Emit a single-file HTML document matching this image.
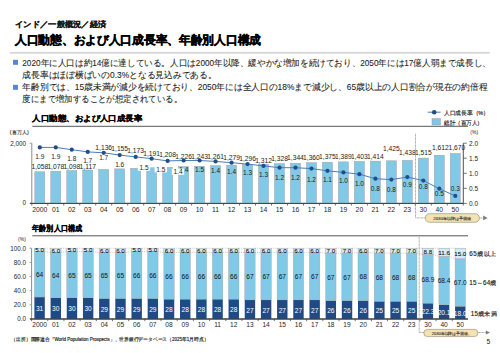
<!DOCTYPE html>
<html lang="ja"><head><meta charset="utf-8"><style>
html,body{margin:0;padding:0;background:#fff;width:500px;height:353px;overflow:hidden}
svg{display:block;font-family:'Liberation Sans', sans-serif}
</style></head><body>
<svg width="500" height="353" viewBox="0 0 500 353">
<text x="15.20" y="26.80" font-size="7.6" text-anchor="start" fill="#1a1a1a" font-weight="bold" textLength="91" lengthAdjust="spacingAndGlyphs" stroke="#1a1a1a" stroke-width="0.25">インド／一般概況／経済</text>
<text x="15.00" y="44.20" font-size="11.8" text-anchor="start" fill="#000" font-weight="bold" textLength="246" lengthAdjust="spacingAndGlyphs" stroke="#000" stroke-width="0.4">人口動態、および人口成長率、年齢別人口構成</text>
<rect x="9.8" y="51.9" width="480" height="1.8" fill="#d6d6d6"/>
<rect x="13.0" y="59.8" width="5" height="5" fill="#5b84d4"/>
<rect x="13.0" y="84.8" width="5" height="5" fill="#5b84d4"/>
<text x="22.30" y="66.20" font-size="8.6" text-anchor="start" fill="#1a1a1a" font-weight="normal" textLength="468.5" lengthAdjust="spacingAndGlyphs" stroke="#1a1a1a" stroke-width="0.08">2020年に人口は約14億に達している。人口は2000年以降、緩やかな増加を続けており、2050年には17億人弱まで成長し、</text>
<text x="22.30" y="78.00" font-size="8.6" text-anchor="start" fill="#1a1a1a" font-weight="normal" textLength="194.5" lengthAdjust="spacingAndGlyphs" stroke="#1a1a1a" stroke-width="0.08">成長率はほぼ横ばいの0.3%となる見込みである。</text>
<text x="22.30" y="90.20" font-size="8.6" text-anchor="start" fill="#1a1a1a" font-weight="normal" textLength="465" lengthAdjust="spacingAndGlyphs" stroke="#1a1a1a" stroke-width="0.08">年齢別では、15歳未満が減少を続けており、2050年には全人口の18%まで減少し、65歳以上の人口割合が現在の約倍程</text>
<text x="22.30" y="102.00" font-size="8.6" text-anchor="start" fill="#1a1a1a" font-weight="normal" textLength="159.7" lengthAdjust="spacingAndGlyphs" stroke="#1a1a1a" stroke-width="0.08">度にまで増加することが想定されている。</text>
<text x="32.30" y="120.90" font-size="7.6" text-anchor="start" fill="#000" font-weight="bold" textLength="110" lengthAdjust="spacingAndGlyphs" stroke="#000" stroke-width="0.22">人口動態、および人口成長率</text>
<rect x="32.3" y="125.8" width="435.7" height="1" fill="#595959"/>
<line x1="427.6" y1="112.2" x2="440.6" y2="112.2" stroke="#4a7ebb" stroke-width="1"/>
<circle cx="434.2" cy="112.2" r="2.3" fill="#1f4e8c"/>
<text x="444.00" y="114.60" font-size="5.8" text-anchor="start" fill="#1a1a1a" font-weight="normal" textLength="45" lengthAdjust="spacingAndGlyphs" stroke="#1a1a1a" stroke-width="0.15">人口成長率（%）</text>
<rect x="432" y="118.6" width="8.4" height="6.4" fill="#7cc8e6" stroke="#9a9a9a" stroke-width="0.5"/>
<text x="444.00" y="124.80" font-size="5.8" text-anchor="start" fill="#1a1a1a" font-weight="normal" textLength="39" lengthAdjust="spacingAndGlyphs" stroke="#1a1a1a" stroke-width="0.15">総計（百万人）</text>
<text x="9.80" y="134.30" font-size="5.3" text-anchor="start" fill="#262626" font-weight="normal" textLength="19" lengthAdjust="spacing" stroke="#262626" stroke-width="0.1">(百万人)</text>
<text x="26.00" y="146.00" font-size="6.3" text-anchor="end" fill="#262626" font-weight="normal" >2,000</text>
<text x="26.00" y="204.80" font-size="6.3" text-anchor="end" fill="#262626" font-weight="normal" >0</text>
<text x="470.30" y="133.80" font-size="5.0" text-anchor="start" fill="#262626" font-weight="normal" >(%)</text>
<text x="469.00" y="145.50" font-size="6.5" text-anchor="start" fill="#262626" font-weight="normal" >2.0</text>
<line x1="463.3" y1="143.2" x2="466.8" y2="143.2" stroke="#505050" stroke-width="0.8"/>
<text x="469.00" y="160.50" font-size="6.5" text-anchor="start" fill="#262626" font-weight="normal" >1.5</text>
<line x1="463.3" y1="158.2" x2="466.8" y2="158.2" stroke="#505050" stroke-width="0.8"/>
<text x="469.00" y="175.60" font-size="6.5" text-anchor="start" fill="#262626" font-weight="normal" >1.0</text>
<line x1="463.3" y1="173.3" x2="466.8" y2="173.3" stroke="#505050" stroke-width="0.8"/>
<text x="469.00" y="190.60" font-size="6.5" text-anchor="start" fill="#262626" font-weight="normal" >0.5</text>
<line x1="463.3" y1="188.3" x2="466.8" y2="188.3" stroke="#505050" stroke-width="0.8"/>
<text x="469.00" y="205.70" font-size="6.5" text-anchor="start" fill="#262626" font-weight="normal" >0.0</text>
<line x1="463.3" y1="203.4" x2="466.8" y2="203.4" stroke="#505050" stroke-width="0.8"/>
<line x1="31.8" y1="143.2" x2="31.8" y2="203.4" stroke="#8c8c8c" stroke-width="1"/>
<line x1="29.5" y1="143.2" x2="31.8" y2="143.2" stroke="#8c8c8c" stroke-width="0.8"/>
<line x1="29.5" y1="203.4" x2="31.8" y2="203.4" stroke="#8c8c8c" stroke-width="0.8"/>
<line x1="463.3" y1="143.2" x2="463.3" y2="203.4" stroke="#505050" stroke-width="1"/>
<line x1="30" y1="203.4" x2="463.3" y2="203.4" stroke="#404040" stroke-width="1"/>
<rect x="34.80" y="171.77" width="10.0" height="31.63" fill="#80cae8" stroke="#a0a0a0" stroke-width="0.5"/>
<rect x="50.78" y="171.17" width="10.0" height="32.23" fill="#80cae8" stroke="#a0a0a0" stroke-width="0.5"/>
<rect x="66.76" y="170.57" width="10.0" height="32.83" fill="#80cae8" stroke="#a0a0a0" stroke-width="0.5"/>
<rect x="82.74" y="170.00" width="10.0" height="33.40" fill="#80cae8" stroke="#a0a0a0" stroke-width="0.5"/>
<rect x="98.72" y="169.43" width="10.0" height="33.97" fill="#80cae8" stroke="#a0a0a0" stroke-width="0.5"/>
<rect x="114.70" y="168.87" width="10.0" height="34.53" fill="#80cae8" stroke="#a0a0a0" stroke-width="0.5"/>
<rect x="130.68" y="168.33" width="10.0" height="35.07" fill="#80cae8" stroke="#a0a0a0" stroke-width="0.5"/>
<rect x="146.66" y="167.79" width="10.0" height="35.61" fill="#80cae8" stroke="#a0a0a0" stroke-width="0.5"/>
<rect x="162.64" y="167.28" width="10.0" height="36.12" fill="#80cae8" stroke="#a0a0a0" stroke-width="0.5"/>
<rect x="178.62" y="166.74" width="10.0" height="36.66" fill="#80cae8" stroke="#a0a0a0" stroke-width="0.5"/>
<rect x="194.60" y="166.23" width="10.0" height="37.17" fill="#80cae8" stroke="#a0a0a0" stroke-width="0.5"/>
<rect x="210.58" y="165.70" width="10.0" height="37.70" fill="#80cae8" stroke="#a0a0a0" stroke-width="0.5"/>
<rect x="226.56" y="165.16" width="10.0" height="38.24" fill="#80cae8" stroke="#a0a0a0" stroke-width="0.5"/>
<rect x="242.54" y="164.65" width="10.0" height="38.75" fill="#80cae8" stroke="#a0a0a0" stroke-width="0.5"/>
<rect x="258.52" y="164.17" width="10.0" height="39.23" fill="#80cae8" stroke="#a0a0a0" stroke-width="0.5"/>
<rect x="274.50" y="163.69" width="10.0" height="39.71" fill="#80cae8" stroke="#a0a0a0" stroke-width="0.5"/>
<rect x="290.48" y="163.21" width="10.0" height="40.19" fill="#80cae8" stroke="#a0a0a0" stroke-width="0.5"/>
<rect x="306.46" y="162.74" width="10.0" height="40.66" fill="#80cae8" stroke="#a0a0a0" stroke-width="0.5"/>
<rect x="322.44" y="162.29" width="10.0" height="41.11" fill="#80cae8" stroke="#a0a0a0" stroke-width="0.5"/>
<rect x="338.42" y="161.87" width="10.0" height="41.53" fill="#80cae8" stroke="#a0a0a0" stroke-width="0.5"/>
<rect x="354.40" y="161.45" width="10.0" height="41.95" fill="#80cae8" stroke="#a0a0a0" stroke-width="0.5"/>
<rect x="370.38" y="161.12" width="10.0" height="42.28" fill="#80cae8" stroke="#a0a0a0" stroke-width="0.5"/>
<rect x="386.36" y="160.79" width="10.0" height="42.61" fill="#80cae8" stroke="#a0a0a0" stroke-width="0.5"/>
<rect x="402.34" y="160.40" width="10.0" height="43.00" fill="#80cae8" stroke="#a0a0a0" stroke-width="0.5"/>
<rect x="418.32" y="158.10" width="10.0" height="45.30" fill="#80cae8" stroke="#a0a0a0" stroke-width="0.5"/>
<rect x="434.30" y="155.20" width="10.0" height="48.20" fill="#80cae8" stroke="#a0a0a0" stroke-width="0.5"/>
<rect x="450.28" y="153.47" width="10.0" height="49.93" fill="#80cae8" stroke="#a0a0a0" stroke-width="0.5"/>
<line x1="30" y1="203.4" x2="463.3" y2="203.4" stroke="#404040" stroke-width="1"/>
<line x1="31.80" y1="203.4" x2="31.80" y2="205.6" stroke="#505050" stroke-width="0.8"/>
<line x1="47.78" y1="203.4" x2="47.78" y2="205.6" stroke="#505050" stroke-width="0.8"/>
<line x1="63.76" y1="203.4" x2="63.76" y2="205.6" stroke="#505050" stroke-width="0.8"/>
<line x1="79.74" y1="203.4" x2="79.74" y2="205.6" stroke="#505050" stroke-width="0.8"/>
<line x1="95.72" y1="203.4" x2="95.72" y2="205.6" stroke="#505050" stroke-width="0.8"/>
<line x1="111.70" y1="203.4" x2="111.70" y2="205.6" stroke="#505050" stroke-width="0.8"/>
<line x1="127.68" y1="203.4" x2="127.68" y2="205.6" stroke="#505050" stroke-width="0.8"/>
<line x1="143.66" y1="203.4" x2="143.66" y2="205.6" stroke="#505050" stroke-width="0.8"/>
<line x1="159.64" y1="203.4" x2="159.64" y2="205.6" stroke="#505050" stroke-width="0.8"/>
<line x1="175.62" y1="203.4" x2="175.62" y2="205.6" stroke="#505050" stroke-width="0.8"/>
<line x1="191.60" y1="203.4" x2="191.60" y2="205.6" stroke="#505050" stroke-width="0.8"/>
<line x1="207.58" y1="203.4" x2="207.58" y2="205.6" stroke="#505050" stroke-width="0.8"/>
<line x1="223.56" y1="203.4" x2="223.56" y2="205.6" stroke="#505050" stroke-width="0.8"/>
<line x1="239.54" y1="203.4" x2="239.54" y2="205.6" stroke="#505050" stroke-width="0.8"/>
<line x1="255.52" y1="203.4" x2="255.52" y2="205.6" stroke="#505050" stroke-width="0.8"/>
<line x1="271.50" y1="203.4" x2="271.50" y2="205.6" stroke="#505050" stroke-width="0.8"/>
<line x1="287.48" y1="203.4" x2="287.48" y2="205.6" stroke="#505050" stroke-width="0.8"/>
<line x1="303.46" y1="203.4" x2="303.46" y2="205.6" stroke="#505050" stroke-width="0.8"/>
<line x1="319.44" y1="203.4" x2="319.44" y2="205.6" stroke="#505050" stroke-width="0.8"/>
<line x1="335.42" y1="203.4" x2="335.42" y2="205.6" stroke="#505050" stroke-width="0.8"/>
<line x1="351.40" y1="203.4" x2="351.40" y2="205.6" stroke="#505050" stroke-width="0.8"/>
<line x1="367.38" y1="203.4" x2="367.38" y2="205.6" stroke="#505050" stroke-width="0.8"/>
<line x1="383.36" y1="203.4" x2="383.36" y2="205.6" stroke="#505050" stroke-width="0.8"/>
<line x1="399.34" y1="203.4" x2="399.34" y2="205.6" stroke="#505050" stroke-width="0.8"/>
<line x1="415.32" y1="203.4" x2="415.32" y2="205.6" stroke="#505050" stroke-width="0.8"/>
<line x1="431.30" y1="203.4" x2="431.30" y2="205.6" stroke="#505050" stroke-width="0.8"/>
<line x1="447.28" y1="203.4" x2="447.28" y2="205.6" stroke="#505050" stroke-width="0.8"/>
<line x1="463.26" y1="203.4" x2="463.26" y2="205.6" stroke="#505050" stroke-width="0.8"/>
<text x="39.80" y="168.70" font-size="6.7" text-anchor="middle" fill="#1a1a1a" font-weight="normal" >1,058</text>
<text x="55.78" y="168.70" font-size="6.7" text-anchor="middle" fill="#1a1a1a" font-weight="normal" >1,078</text>
<text x="71.76" y="168.70" font-size="6.7" text-anchor="middle" fill="#1a1a1a" font-weight="normal" >1,098</text>
<text x="87.74" y="168.70" font-size="6.7" text-anchor="middle" fill="#1a1a1a" font-weight="normal" >1,117</text>
<text x="103.72" y="149.60" font-size="6.7" text-anchor="middle" fill="#1a1a1a" font-weight="normal" >1,136</text>
<text x="119.70" y="151.00" font-size="6.7" text-anchor="middle" fill="#1a1a1a" font-weight="normal" >1,155</text>
<text x="135.68" y="153.20" font-size="6.7" text-anchor="middle" fill="#1a1a1a" font-weight="normal" >1,173</text>
<text x="151.66" y="155.50" font-size="6.7" text-anchor="middle" fill="#1a1a1a" font-weight="normal" >1,191</text>
<text x="167.64" y="156.80" font-size="6.7" text-anchor="middle" fill="#1a1a1a" font-weight="normal" >1,208</text>
<text x="183.62" y="158.60" font-size="6.7" text-anchor="middle" fill="#1a1a1a" font-weight="normal" >1,226</text>
<text x="199.60" y="159.10" font-size="6.7" text-anchor="middle" fill="#1a1a1a" font-weight="normal" >1,243</text>
<text x="215.58" y="158.60" font-size="6.7" text-anchor="middle" fill="#1a1a1a" font-weight="normal" >1,261</text>
<text x="231.56" y="159.50" font-size="6.7" text-anchor="middle" fill="#1a1a1a" font-weight="normal" >1,279</text>
<text x="247.54" y="160.90" font-size="6.7" text-anchor="middle" fill="#1a1a1a" font-weight="normal" >1,296</text>
<text x="263.52" y="162.70" font-size="6.7" text-anchor="middle" fill="#1a1a1a" font-weight="normal" >1,312</text>
<text x="279.50" y="161.00" font-size="6.7" text-anchor="middle" fill="#1a1a1a" font-weight="normal" >1,328</text>
<text x="295.48" y="159.50" font-size="6.7" text-anchor="middle" fill="#1a1a1a" font-weight="normal" >1,344</text>
<text x="311.46" y="159.50" font-size="6.7" text-anchor="middle" fill="#1a1a1a" font-weight="normal" >1,360</text>
<text x="327.44" y="159.30" font-size="6.7" text-anchor="middle" fill="#1a1a1a" font-weight="normal" >1,375</text>
<text x="343.42" y="159.20" font-size="6.7" text-anchor="middle" fill="#1a1a1a" font-weight="normal" >1,389</text>
<text x="359.40" y="159.20" font-size="6.7" text-anchor="middle" fill="#1a1a1a" font-weight="normal" >1,403</text>
<text x="375.38" y="159.20" font-size="6.7" text-anchor="middle" fill="#1a1a1a" font-weight="normal" >1,414</text>
<text x="391.36" y="150.60" font-size="6.7" text-anchor="middle" fill="#1a1a1a" font-weight="normal" >1,425</text>
<text x="407.34" y="155.20" font-size="6.7" text-anchor="middle" fill="#1a1a1a" font-weight="normal" >1,438</text>
<text x="423.32" y="154.50" font-size="6.7" text-anchor="middle" fill="#1a1a1a" font-weight="normal" >1,515</text>
<text x="440.30" y="150.00" font-size="6.7" text-anchor="middle" fill="#1a1a1a" font-weight="normal" >1,612</text>
<text x="456.90" y="150.00" font-size="6.7" text-anchor="middle" fill="#1a1a1a" font-weight="normal" >1,670</text>
<polyline points="39.80,147.4 55.78,147.4 71.76,149.7 87.74,151.9 103.72,152.8 119.70,155.1 135.68,156.9 151.66,158.7 167.64,160.9 183.62,160.5 199.60,160.5 215.58,161.4 231.56,162.7 247.54,164.1 263.52,165.9 279.50,167.7 295.48,167.7 311.46,168.6 327.44,170.8 343.42,172.4 359.40,174.2 375.38,178.7 391.36,179.6 407.34,177.1 423.32,180.6 439.30,188.7 455.28,195.9" fill="none" stroke="#4a7ebb" stroke-width="1"/>
<circle cx="39.80" cy="147.4" r="2.1" fill="#1f4e8c"/>
<circle cx="55.78" cy="147.4" r="2.1" fill="#1f4e8c"/>
<circle cx="71.76" cy="149.7" r="2.1" fill="#1f4e8c"/>
<circle cx="87.74" cy="151.9" r="2.1" fill="#1f4e8c"/>
<circle cx="103.72" cy="152.8" r="2.1" fill="#1f4e8c"/>
<circle cx="119.70" cy="155.1" r="2.1" fill="#1f4e8c"/>
<circle cx="135.68" cy="156.9" r="2.1" fill="#1f4e8c"/>
<circle cx="151.66" cy="158.7" r="2.1" fill="#1f4e8c"/>
<circle cx="167.64" cy="160.9" r="2.1" fill="#1f4e8c"/>
<circle cx="183.62" cy="160.5" r="2.1" fill="#1f4e8c"/>
<circle cx="199.60" cy="160.5" r="2.1" fill="#1f4e8c"/>
<circle cx="215.58" cy="161.4" r="2.1" fill="#1f4e8c"/>
<circle cx="231.56" cy="162.7" r="2.1" fill="#1f4e8c"/>
<circle cx="247.54" cy="164.1" r="2.1" fill="#1f4e8c"/>
<circle cx="263.52" cy="165.9" r="2.1" fill="#1f4e8c"/>
<circle cx="279.50" cy="167.7" r="2.1" fill="#1f4e8c"/>
<circle cx="295.48" cy="167.7" r="2.1" fill="#1f4e8c"/>
<circle cx="311.46" cy="168.6" r="2.1" fill="#1f4e8c"/>
<circle cx="327.44" cy="170.8" r="2.1" fill="#1f4e8c"/>
<circle cx="343.42" cy="172.4" r="2.1" fill="#1f4e8c"/>
<circle cx="359.40" cy="174.2" r="2.1" fill="#1f4e8c"/>
<circle cx="375.38" cy="178.7" r="2.1" fill="#1f4e8c"/>
<circle cx="391.36" cy="179.6" r="2.1" fill="#1f4e8c"/>
<circle cx="407.34" cy="177.1" r="2.1" fill="#1f4e8c"/>
<circle cx="423.32" cy="180.6" r="2.1" fill="#1f4e8c"/>
<circle cx="439.30" cy="188.7" r="2.1" fill="#1f4e8c"/>
<circle cx="455.28" cy="195.9" r="2.1" fill="#1f4e8c"/>
<text x="39.80" y="158.70" font-size="6.5" text-anchor="middle" fill="#1a1a1a" font-weight="normal" >1.9</text>
<text x="55.78" y="158.70" font-size="6.5" text-anchor="middle" fill="#1a1a1a" font-weight="normal" >1.9</text>
<text x="71.76" y="160.50" font-size="6.5" text-anchor="middle" fill="#1a1a1a" font-weight="normal" >1.8</text>
<text x="87.74" y="162.80" font-size="6.5" text-anchor="middle" fill="#1a1a1a" font-weight="normal" >1.7</text>
<text x="103.72" y="159.50" font-size="6.5" text-anchor="middle" fill="#1a1a1a" font-weight="normal" >1.7</text>
<text x="119.70" y="166.80" font-size="6.5" text-anchor="middle" fill="#1a1a1a" font-weight="normal" >1.6</text>
<rect x="137.80" y="164.60" width="12.4" height="6.2" fill="#fff"/>
<text x="144.00" y="169.90" font-size="6.5" text-anchor="middle" fill="#1a1a1a" font-weight="normal" >1.5</text>
<rect x="154.60" y="166.20" width="12.4" height="6.2" fill="#fff"/>
<text x="160.80" y="171.50" font-size="6.5" text-anchor="middle" fill="#1a1a1a" font-weight="normal" >1.5</text>
<text x="183.80" y="172.30" font-size="6.5" text-anchor="middle" fill="#1a1a1a" font-weight="normal" >1.4</text>
<rect x="171.80" y="168.60" width="12.4" height="6.2" fill="#fff"/>
<text x="178.00" y="173.90" font-size="6.5" text-anchor="middle" fill="#1a1a1a" font-weight="normal" >1.4</text>
<text x="199.60" y="171.50" font-size="6.5" text-anchor="middle" fill="#1a1a1a" font-weight="normal" >1.5</text>
<text x="215.58" y="173.10" font-size="6.5" text-anchor="middle" fill="#1a1a1a" font-weight="normal" >1.4</text>
<text x="231.56" y="174.00" font-size="6.5" text-anchor="middle" fill="#1a1a1a" font-weight="normal" >1.4</text>
<text x="247.54" y="174.90" font-size="6.5" text-anchor="middle" fill="#1a1a1a" font-weight="normal" >1.3</text>
<text x="263.52" y="176.70" font-size="6.5" text-anchor="middle" fill="#1a1a1a" font-weight="normal" >1.3</text>
<text x="279.50" y="180.00" font-size="6.5" text-anchor="middle" fill="#1a1a1a" font-weight="normal" >1.2</text>
<text x="295.48" y="180.00" font-size="6.5" text-anchor="middle" fill="#1a1a1a" font-weight="normal" >1.2</text>
<text x="311.46" y="181.50" font-size="6.5" text-anchor="middle" fill="#1a1a1a" font-weight="normal" >1.2</text>
<text x="327.44" y="182.00" font-size="6.5" text-anchor="middle" fill="#1a1a1a" font-weight="normal" >1.1</text>
<text x="343.42" y="183.40" font-size="6.5" text-anchor="middle" fill="#1a1a1a" font-weight="normal" >1.0</text>
<text x="359.40" y="186.10" font-size="6.5" text-anchor="middle" fill="#1a1a1a" font-weight="normal" >1.0</text>
<text x="375.38" y="190.60" font-size="6.5" text-anchor="middle" fill="#1a1a1a" font-weight="normal" >0.8</text>
<text x="391.36" y="191.50" font-size="6.5" text-anchor="middle" fill="#1a1a1a" font-weight="normal" >0.8</text>
<text x="407.34" y="187.00" font-size="6.5" text-anchor="middle" fill="#1a1a1a" font-weight="normal" >0.9</text>
<text x="423.32" y="188.70" font-size="6.5" text-anchor="middle" fill="#1a1a1a" font-weight="normal" >0.8</text>
<text x="439.30" y="196.40" font-size="6.5" text-anchor="middle" fill="#1a1a1a" font-weight="normal" >0.5</text>
<text x="455.28" y="190.90" font-size="6.5" text-anchor="middle" fill="#1a1a1a" font-weight="normal" >0.3</text>
<text x="39.80" y="212.30" font-size="6.8" text-anchor="middle" fill="#262626" font-weight="normal" >2000</text>
<text x="55.78" y="212.30" font-size="6.8" text-anchor="middle" fill="#262626" font-weight="normal" >01</text>
<text x="71.76" y="212.30" font-size="6.8" text-anchor="middle" fill="#262626" font-weight="normal" >02</text>
<text x="87.74" y="212.30" font-size="6.8" text-anchor="middle" fill="#262626" font-weight="normal" >03</text>
<text x="103.72" y="212.30" font-size="6.8" text-anchor="middle" fill="#262626" font-weight="normal" >04</text>
<text x="119.70" y="212.30" font-size="6.8" text-anchor="middle" fill="#262626" font-weight="normal" >05</text>
<text x="135.68" y="212.30" font-size="6.8" text-anchor="middle" fill="#262626" font-weight="normal" >06</text>
<text x="151.66" y="212.30" font-size="6.8" text-anchor="middle" fill="#262626" font-weight="normal" >07</text>
<text x="167.64" y="212.30" font-size="6.8" text-anchor="middle" fill="#262626" font-weight="normal" >08</text>
<text x="183.62" y="212.30" font-size="6.8" text-anchor="middle" fill="#262626" font-weight="normal" >09</text>
<text x="199.60" y="212.30" font-size="6.8" text-anchor="middle" fill="#262626" font-weight="normal" >10</text>
<text x="215.58" y="212.30" font-size="6.8" text-anchor="middle" fill="#262626" font-weight="normal" >11</text>
<text x="231.56" y="212.30" font-size="6.8" text-anchor="middle" fill="#262626" font-weight="normal" >12</text>
<text x="247.54" y="212.30" font-size="6.8" text-anchor="middle" fill="#262626" font-weight="normal" >13</text>
<text x="263.52" y="212.30" font-size="6.8" text-anchor="middle" fill="#262626" font-weight="normal" >14</text>
<text x="279.50" y="212.30" font-size="6.8" text-anchor="middle" fill="#262626" font-weight="normal" >15</text>
<text x="295.48" y="212.30" font-size="6.8" text-anchor="middle" fill="#262626" font-weight="normal" >16</text>
<text x="311.46" y="212.30" font-size="6.8" text-anchor="middle" fill="#262626" font-weight="normal" >17</text>
<text x="327.44" y="212.30" font-size="6.8" text-anchor="middle" fill="#262626" font-weight="normal" >18</text>
<text x="343.42" y="212.30" font-size="6.8" text-anchor="middle" fill="#262626" font-weight="normal" >19</text>
<text x="359.40" y="212.30" font-size="6.8" text-anchor="middle" fill="#262626" font-weight="normal" >20</text>
<text x="375.38" y="212.30" font-size="6.8" text-anchor="middle" fill="#262626" font-weight="normal" >21</text>
<text x="391.36" y="212.30" font-size="6.8" text-anchor="middle" fill="#262626" font-weight="normal" >22</text>
<text x="407.34" y="212.30" font-size="6.8" text-anchor="middle" fill="#262626" font-weight="normal" >23</text>
<text x="423.32" y="212.30" font-size="6.8" text-anchor="middle" fill="#262626" font-weight="normal" >30</text>
<text x="439.30" y="212.30" font-size="6.8" text-anchor="middle" fill="#262626" font-weight="normal" >40</text>
<text x="455.28" y="212.30" font-size="6.8" text-anchor="middle" fill="#262626" font-weight="normal" >50</text>
<text x="32.10" y="231.20" font-size="7.6" text-anchor="start" fill="#000" font-weight="bold" textLength="50" lengthAdjust="spacingAndGlyphs" stroke="#000" stroke-width="0.22">年齢別人口構成</text>
<rect x="32.3" y="235.3" width="435.7" height="1" fill="#555555"/>
<text x="25.90" y="241.40" font-size="5.0" text-anchor="end" fill="#262626" font-weight="normal" >(%)</text>
<text x="25.90" y="321.30" font-size="6.3" text-anchor="end" fill="#262626" font-weight="normal" >0.0</text>
<line x1="29.5" y1="319.00" x2="31.6" y2="319.00" stroke="#8c8c8c" stroke-width="0.8"/>
<text x="25.90" y="307.14" font-size="6.3" text-anchor="end" fill="#262626" font-weight="normal" >20.0</text>
<line x1="29.5" y1="304.84" x2="31.6" y2="304.84" stroke="#8c8c8c" stroke-width="0.8"/>
<text x="25.90" y="292.98" font-size="6.3" text-anchor="end" fill="#262626" font-weight="normal" >40.0</text>
<line x1="29.5" y1="290.68" x2="31.6" y2="290.68" stroke="#8c8c8c" stroke-width="0.8"/>
<text x="25.90" y="278.82" font-size="6.3" text-anchor="end" fill="#262626" font-weight="normal" >60.0</text>
<line x1="29.5" y1="276.52" x2="31.6" y2="276.52" stroke="#8c8c8c" stroke-width="0.8"/>
<text x="25.90" y="264.66" font-size="6.3" text-anchor="end" fill="#262626" font-weight="normal" >80.0</text>
<line x1="29.5" y1="262.36" x2="31.6" y2="262.36" stroke="#8c8c8c" stroke-width="0.8"/>
<text x="25.90" y="250.50" font-size="6.3" text-anchor="end" fill="#262626" font-weight="normal" >100.0</text>
<line x1="29.5" y1="248.20" x2="31.6" y2="248.20" stroke="#8c8c8c" stroke-width="0.8"/>
<line x1="31.6" y1="248.20" x2="31.6" y2="319.0" stroke="#8c8c8c" stroke-width="1"/>
<line x1="30" y1="319.0" x2="468" y2="319.0" stroke="#404040" stroke-width="1"/>
<rect x="34.40" y="297.05" width="10.4" height="21.95" fill="#1f4a85"/>
<rect x="34.40" y="251.74" width="10.4" height="45.31" fill="#80cae8" stroke="#a0a0a0" stroke-width="0.4"/>
<rect x="34.40" y="248.20" width="10.4" height="3.54" fill="#d2ecf7" stroke="#a0a0a0" stroke-width="0.5"/>
<line x1="44.80" y1="248.20" x2="50.58" y2="248.20" stroke="#999" stroke-width="0.5" stroke-dasharray="1,1"/>
<line x1="44.80" y1="251.74" x2="50.58" y2="252.45" stroke="#999" stroke-width="0.5" stroke-dasharray="1,1"/>
<text x="39.60" y="252.17" font-size="6.2" text-anchor="middle" fill="#000" font-weight="normal" stroke="#000" stroke-width="0.05">5.0</text>
<text x="39.60" y="277.20" font-size="6.6" text-anchor="middle" fill="#111" font-weight="normal" >64</text>
<text x="39.60" y="311.13" font-size="6.6" text-anchor="middle" fill="#ffffff" font-weight="normal" >31</text>
<line x1="31.60" y1="319.0" x2="31.60" y2="321.2" stroke="#505050" stroke-width="0.8"/>
<text x="39.60" y="327.00" font-size="6.6" text-anchor="middle" fill="#262626" font-weight="normal" >2000</text>
<rect x="50.58" y="297.76" width="10.4" height="21.24" fill="#1f4a85"/>
<rect x="50.58" y="252.45" width="10.4" height="45.31" fill="#80cae8" stroke="#a0a0a0" stroke-width="0.4"/>
<rect x="50.58" y="248.20" width="10.4" height="4.25" fill="#d2ecf7" stroke="#a0a0a0" stroke-width="0.5"/>
<line x1="60.98" y1="248.20" x2="66.76" y2="248.20" stroke="#999" stroke-width="0.5" stroke-dasharray="1,1"/>
<line x1="60.98" y1="252.45" x2="66.76" y2="251.74" stroke="#999" stroke-width="0.5" stroke-dasharray="1,1"/>
<text x="55.78" y="252.52" font-size="6.2" text-anchor="middle" fill="#000" font-weight="normal" stroke="#000" stroke-width="0.05">6.0</text>
<text x="55.78" y="277.90" font-size="6.6" text-anchor="middle" fill="#111" font-weight="normal" >64</text>
<text x="55.78" y="311.48" font-size="6.6" text-anchor="middle" fill="#ffffff" font-weight="normal" >30</text>
<line x1="47.78" y1="319.0" x2="47.78" y2="321.2" stroke="#505050" stroke-width="0.8"/>
<text x="55.78" y="327.00" font-size="6.6" text-anchor="middle" fill="#262626" font-weight="normal" >01</text>
<rect x="66.76" y="297.76" width="10.4" height="21.24" fill="#1f4a85"/>
<rect x="66.76" y="251.74" width="10.4" height="46.02" fill="#80cae8" stroke="#a0a0a0" stroke-width="0.4"/>
<rect x="66.76" y="248.20" width="10.4" height="3.54" fill="#d2ecf7" stroke="#a0a0a0" stroke-width="0.5"/>
<line x1="77.16" y1="248.20" x2="82.94" y2="248.20" stroke="#999" stroke-width="0.5" stroke-dasharray="1,1"/>
<line x1="77.16" y1="251.74" x2="82.94" y2="251.74" stroke="#999" stroke-width="0.5" stroke-dasharray="1,1"/>
<text x="71.96" y="252.17" font-size="6.2" text-anchor="middle" fill="#000" font-weight="normal" stroke="#000" stroke-width="0.05">5.0</text>
<text x="71.96" y="277.55" font-size="6.6" text-anchor="middle" fill="#111" font-weight="normal" >65</text>
<text x="71.96" y="311.48" font-size="6.6" text-anchor="middle" fill="#ffffff" font-weight="normal" >30</text>
<line x1="63.96" y1="319.0" x2="63.96" y2="321.2" stroke="#505050" stroke-width="0.8"/>
<text x="71.96" y="327.00" font-size="6.6" text-anchor="middle" fill="#262626" font-weight="normal" >02</text>
<rect x="82.94" y="297.76" width="10.4" height="21.24" fill="#1f4a85"/>
<rect x="82.94" y="251.74" width="10.4" height="46.02" fill="#80cae8" stroke="#a0a0a0" stroke-width="0.4"/>
<rect x="82.94" y="248.20" width="10.4" height="3.54" fill="#d2ecf7" stroke="#a0a0a0" stroke-width="0.5"/>
<line x1="93.34" y1="248.20" x2="99.12" y2="248.20" stroke="#999" stroke-width="0.5" stroke-dasharray="1,1"/>
<line x1="93.34" y1="251.74" x2="99.12" y2="252.45" stroke="#999" stroke-width="0.5" stroke-dasharray="1,1"/>
<text x="88.14" y="252.17" font-size="6.2" text-anchor="middle" fill="#000" font-weight="normal" stroke="#000" stroke-width="0.05">5.0</text>
<text x="88.14" y="277.55" font-size="6.6" text-anchor="middle" fill="#111" font-weight="normal" >65</text>
<text x="88.14" y="311.48" font-size="6.6" text-anchor="middle" fill="#ffffff" font-weight="normal" >30</text>
<line x1="80.14" y1="319.0" x2="80.14" y2="321.2" stroke="#505050" stroke-width="0.8"/>
<text x="88.14" y="327.00" font-size="6.6" text-anchor="middle" fill="#262626" font-weight="normal" >03</text>
<rect x="99.12" y="298.47" width="10.4" height="20.53" fill="#1f4a85"/>
<rect x="99.12" y="252.45" width="10.4" height="46.02" fill="#80cae8" stroke="#a0a0a0" stroke-width="0.4"/>
<rect x="99.12" y="248.20" width="10.4" height="4.25" fill="#d2ecf7" stroke="#a0a0a0" stroke-width="0.5"/>
<line x1="109.52" y1="248.20" x2="115.30" y2="248.20" stroke="#999" stroke-width="0.5" stroke-dasharray="1,1"/>
<line x1="109.52" y1="252.45" x2="115.30" y2="252.45" stroke="#999" stroke-width="0.5" stroke-dasharray="1,1"/>
<text x="104.32" y="252.52" font-size="6.2" text-anchor="middle" fill="#000" font-weight="normal" stroke="#000" stroke-width="0.05">6.0</text>
<text x="104.32" y="278.26" font-size="6.6" text-anchor="middle" fill="#111" font-weight="normal" >65</text>
<text x="104.32" y="311.83" font-size="6.6" text-anchor="middle" fill="#ffffff" font-weight="normal" >29</text>
<line x1="96.32" y1="319.0" x2="96.32" y2="321.2" stroke="#505050" stroke-width="0.8"/>
<text x="104.32" y="327.00" font-size="6.6" text-anchor="middle" fill="#262626" font-weight="normal" >04</text>
<rect x="115.30" y="298.47" width="10.4" height="20.53" fill="#1f4a85"/>
<rect x="115.30" y="252.45" width="10.4" height="46.02" fill="#80cae8" stroke="#a0a0a0" stroke-width="0.4"/>
<rect x="115.30" y="248.20" width="10.4" height="4.25" fill="#d2ecf7" stroke="#a0a0a0" stroke-width="0.5"/>
<line x1="125.70" y1="248.20" x2="131.48" y2="248.20" stroke="#999" stroke-width="0.5" stroke-dasharray="1,1"/>
<line x1="125.70" y1="252.45" x2="131.48" y2="251.74" stroke="#999" stroke-width="0.5" stroke-dasharray="1,1"/>
<text x="120.50" y="252.52" font-size="6.2" text-anchor="middle" fill="#000" font-weight="normal" stroke="#000" stroke-width="0.05">6.0</text>
<text x="120.50" y="278.26" font-size="6.6" text-anchor="middle" fill="#111" font-weight="normal" >65</text>
<text x="120.50" y="311.83" font-size="6.6" text-anchor="middle" fill="#ffffff" font-weight="normal" >29</text>
<line x1="112.50" y1="319.0" x2="112.50" y2="321.2" stroke="#505050" stroke-width="0.8"/>
<text x="120.50" y="327.00" font-size="6.6" text-anchor="middle" fill="#262626" font-weight="normal" >05</text>
<rect x="131.48" y="298.47" width="10.4" height="20.53" fill="#1f4a85"/>
<rect x="131.48" y="251.74" width="10.4" height="46.73" fill="#80cae8" stroke="#a0a0a0" stroke-width="0.4"/>
<rect x="131.48" y="248.20" width="10.4" height="3.54" fill="#d2ecf7" stroke="#a0a0a0" stroke-width="0.5"/>
<line x1="141.88" y1="248.20" x2="147.66" y2="248.20" stroke="#999" stroke-width="0.5" stroke-dasharray="1,1"/>
<line x1="141.88" y1="251.74" x2="147.66" y2="251.74" stroke="#999" stroke-width="0.5" stroke-dasharray="1,1"/>
<text x="136.68" y="252.17" font-size="6.2" text-anchor="middle" fill="#000" font-weight="normal" stroke="#000" stroke-width="0.05">5.0</text>
<text x="136.68" y="277.90" font-size="6.6" text-anchor="middle" fill="#111" font-weight="normal" >66</text>
<text x="136.68" y="311.83" font-size="6.6" text-anchor="middle" fill="#ffffff" font-weight="normal" >29</text>
<line x1="128.68" y1="319.0" x2="128.68" y2="321.2" stroke="#505050" stroke-width="0.8"/>
<text x="136.68" y="327.00" font-size="6.6" text-anchor="middle" fill="#262626" font-weight="normal" >06</text>
<rect x="147.66" y="298.47" width="10.4" height="20.53" fill="#1f4a85"/>
<rect x="147.66" y="251.74" width="10.4" height="46.73" fill="#80cae8" stroke="#a0a0a0" stroke-width="0.4"/>
<rect x="147.66" y="248.20" width="10.4" height="3.54" fill="#d2ecf7" stroke="#a0a0a0" stroke-width="0.5"/>
<line x1="158.06" y1="248.20" x2="163.84" y2="248.20" stroke="#999" stroke-width="0.5" stroke-dasharray="1,1"/>
<line x1="158.06" y1="251.74" x2="163.84" y2="252.45" stroke="#999" stroke-width="0.5" stroke-dasharray="1,1"/>
<text x="152.86" y="252.17" font-size="6.2" text-anchor="middle" fill="#000" font-weight="normal" stroke="#000" stroke-width="0.05">5.0</text>
<text x="152.86" y="277.90" font-size="6.6" text-anchor="middle" fill="#111" font-weight="normal" >66</text>
<text x="152.86" y="311.83" font-size="6.6" text-anchor="middle" fill="#ffffff" font-weight="normal" >29</text>
<line x1="144.86" y1="319.0" x2="144.86" y2="321.2" stroke="#505050" stroke-width="0.8"/>
<text x="152.86" y="327.00" font-size="6.6" text-anchor="middle" fill="#262626" font-weight="normal" >07</text>
<rect x="163.84" y="299.18" width="10.4" height="19.82" fill="#1f4a85"/>
<rect x="163.84" y="252.45" width="10.4" height="46.73" fill="#80cae8" stroke="#a0a0a0" stroke-width="0.4"/>
<rect x="163.84" y="248.20" width="10.4" height="4.25" fill="#d2ecf7" stroke="#a0a0a0" stroke-width="0.5"/>
<line x1="174.24" y1="248.20" x2="180.02" y2="248.20" stroke="#999" stroke-width="0.5" stroke-dasharray="1,1"/>
<line x1="174.24" y1="252.45" x2="180.02" y2="252.45" stroke="#999" stroke-width="0.5" stroke-dasharray="1,1"/>
<text x="169.04" y="252.52" font-size="6.2" text-anchor="middle" fill="#000" font-weight="normal" stroke="#000" stroke-width="0.05">6.0</text>
<text x="169.04" y="278.61" font-size="6.6" text-anchor="middle" fill="#111" font-weight="normal" >66</text>
<text x="169.04" y="312.19" font-size="6.6" text-anchor="middle" fill="#ffffff" font-weight="normal" >28</text>
<line x1="161.04" y1="319.0" x2="161.04" y2="321.2" stroke="#505050" stroke-width="0.8"/>
<text x="169.04" y="327.00" font-size="6.6" text-anchor="middle" fill="#262626" font-weight="normal" >08</text>
<rect x="180.02" y="299.18" width="10.4" height="19.82" fill="#1f4a85"/>
<rect x="180.02" y="252.45" width="10.4" height="46.73" fill="#80cae8" stroke="#a0a0a0" stroke-width="0.4"/>
<rect x="180.02" y="248.20" width="10.4" height="4.25" fill="#d2ecf7" stroke="#a0a0a0" stroke-width="0.5"/>
<line x1="190.42" y1="248.20" x2="196.20" y2="248.20" stroke="#999" stroke-width="0.5" stroke-dasharray="1,1"/>
<line x1="190.42" y1="252.45" x2="196.20" y2="252.45" stroke="#999" stroke-width="0.5" stroke-dasharray="1,1"/>
<text x="185.22" y="252.52" font-size="6.2" text-anchor="middle" fill="#000" font-weight="normal" stroke="#000" stroke-width="0.05">6.0</text>
<text x="185.22" y="278.61" font-size="6.6" text-anchor="middle" fill="#111" font-weight="normal" >66</text>
<text x="185.22" y="312.19" font-size="6.6" text-anchor="middle" fill="#ffffff" font-weight="normal" >28</text>
<line x1="177.22" y1="319.0" x2="177.22" y2="321.2" stroke="#505050" stroke-width="0.8"/>
<text x="185.22" y="327.00" font-size="6.6" text-anchor="middle" fill="#262626" font-weight="normal" >09</text>
<rect x="196.20" y="299.18" width="10.4" height="19.82" fill="#1f4a85"/>
<rect x="196.20" y="252.45" width="10.4" height="46.73" fill="#80cae8" stroke="#a0a0a0" stroke-width="0.4"/>
<rect x="196.20" y="248.20" width="10.4" height="4.25" fill="#d2ecf7" stroke="#a0a0a0" stroke-width="0.5"/>
<line x1="206.60" y1="248.20" x2="212.38" y2="248.20" stroke="#999" stroke-width="0.5" stroke-dasharray="1,1"/>
<line x1="206.60" y1="252.45" x2="212.38" y2="252.45" stroke="#999" stroke-width="0.5" stroke-dasharray="1,1"/>
<text x="201.40" y="252.52" font-size="6.2" text-anchor="middle" fill="#000" font-weight="normal" stroke="#000" stroke-width="0.05">6.0</text>
<text x="201.40" y="278.61" font-size="6.6" text-anchor="middle" fill="#111" font-weight="normal" >66</text>
<text x="201.40" y="312.19" font-size="6.6" text-anchor="middle" fill="#ffffff" font-weight="normal" >28</text>
<line x1="193.40" y1="319.0" x2="193.40" y2="321.2" stroke="#505050" stroke-width="0.8"/>
<text x="201.40" y="327.00" font-size="6.6" text-anchor="middle" fill="#262626" font-weight="normal" >10</text>
<rect x="212.38" y="299.18" width="10.4" height="19.82" fill="#1f4a85"/>
<rect x="212.38" y="252.45" width="10.4" height="46.73" fill="#80cae8" stroke="#a0a0a0" stroke-width="0.4"/>
<rect x="212.38" y="248.20" width="10.4" height="4.25" fill="#d2ecf7" stroke="#a0a0a0" stroke-width="0.5"/>
<line x1="222.78" y1="248.20" x2="228.56" y2="248.20" stroke="#999" stroke-width="0.5" stroke-dasharray="1,1"/>
<line x1="222.78" y1="252.45" x2="228.56" y2="252.45" stroke="#999" stroke-width="0.5" stroke-dasharray="1,1"/>
<text x="217.58" y="252.52" font-size="6.2" text-anchor="middle" fill="#000" font-weight="normal" stroke="#000" stroke-width="0.05">6.0</text>
<text x="217.58" y="278.61" font-size="6.6" text-anchor="middle" fill="#111" font-weight="normal" >66</text>
<text x="217.58" y="312.19" font-size="6.6" text-anchor="middle" fill="#ffffff" font-weight="normal" >28</text>
<line x1="209.58" y1="319.0" x2="209.58" y2="321.2" stroke="#505050" stroke-width="0.8"/>
<text x="217.58" y="327.00" font-size="6.6" text-anchor="middle" fill="#262626" font-weight="normal" >11</text>
<rect x="228.56" y="299.18" width="10.4" height="19.82" fill="#1f4a85"/>
<rect x="228.56" y="252.45" width="10.4" height="46.73" fill="#80cae8" stroke="#a0a0a0" stroke-width="0.4"/>
<rect x="228.56" y="248.20" width="10.4" height="4.25" fill="#d2ecf7" stroke="#a0a0a0" stroke-width="0.5"/>
<line x1="238.96" y1="248.20" x2="244.74" y2="248.20" stroke="#999" stroke-width="0.5" stroke-dasharray="1,1"/>
<line x1="238.96" y1="252.45" x2="244.74" y2="252.45" stroke="#999" stroke-width="0.5" stroke-dasharray="1,1"/>
<text x="233.76" y="252.52" font-size="6.2" text-anchor="middle" fill="#000" font-weight="normal" stroke="#000" stroke-width="0.05">6.0</text>
<text x="233.76" y="278.61" font-size="6.6" text-anchor="middle" fill="#111" font-weight="normal" >66</text>
<text x="233.76" y="312.19" font-size="6.6" text-anchor="middle" fill="#ffffff" font-weight="normal" >28</text>
<line x1="225.76" y1="319.0" x2="225.76" y2="321.2" stroke="#505050" stroke-width="0.8"/>
<text x="233.76" y="327.00" font-size="6.6" text-anchor="middle" fill="#262626" font-weight="normal" >12</text>
<rect x="244.74" y="299.88" width="10.4" height="19.12" fill="#1f4a85"/>
<rect x="244.74" y="252.45" width="10.4" height="47.44" fill="#80cae8" stroke="#a0a0a0" stroke-width="0.4"/>
<rect x="244.74" y="248.20" width="10.4" height="4.25" fill="#d2ecf7" stroke="#a0a0a0" stroke-width="0.5"/>
<line x1="255.14" y1="248.20" x2="260.92" y2="248.20" stroke="#999" stroke-width="0.5" stroke-dasharray="1,1"/>
<line x1="255.14" y1="252.45" x2="260.92" y2="252.45" stroke="#999" stroke-width="0.5" stroke-dasharray="1,1"/>
<text x="249.94" y="252.52" font-size="6.2" text-anchor="middle" fill="#000" font-weight="normal" stroke="#000" stroke-width="0.05">6.0</text>
<text x="249.94" y="278.97" font-size="6.6" text-anchor="middle" fill="#111" font-weight="normal" >67</text>
<text x="249.94" y="312.54" font-size="6.6" text-anchor="middle" fill="#ffffff" font-weight="normal" >27</text>
<line x1="241.94" y1="319.0" x2="241.94" y2="321.2" stroke="#505050" stroke-width="0.8"/>
<text x="249.94" y="327.00" font-size="6.6" text-anchor="middle" fill="#262626" font-weight="normal" >13</text>
<rect x="260.92" y="299.88" width="10.4" height="19.12" fill="#1f4a85"/>
<rect x="260.92" y="252.45" width="10.4" height="47.44" fill="#80cae8" stroke="#a0a0a0" stroke-width="0.4"/>
<rect x="260.92" y="248.20" width="10.4" height="4.25" fill="#d2ecf7" stroke="#a0a0a0" stroke-width="0.5"/>
<line x1="271.32" y1="248.20" x2="277.10" y2="248.20" stroke="#999" stroke-width="0.5" stroke-dasharray="1,1"/>
<line x1="271.32" y1="252.45" x2="277.10" y2="252.45" stroke="#999" stroke-width="0.5" stroke-dasharray="1,1"/>
<text x="266.12" y="252.52" font-size="6.2" text-anchor="middle" fill="#000" font-weight="normal" stroke="#000" stroke-width="0.05">6.0</text>
<text x="266.12" y="278.97" font-size="6.6" text-anchor="middle" fill="#111" font-weight="normal" >67</text>
<text x="266.12" y="312.54" font-size="6.6" text-anchor="middle" fill="#ffffff" font-weight="normal" >27</text>
<line x1="258.12" y1="319.0" x2="258.12" y2="321.2" stroke="#505050" stroke-width="0.8"/>
<text x="266.12" y="327.00" font-size="6.6" text-anchor="middle" fill="#262626" font-weight="normal" >14</text>
<rect x="277.10" y="299.88" width="10.4" height="19.12" fill="#1f4a85"/>
<rect x="277.10" y="252.45" width="10.4" height="47.44" fill="#80cae8" stroke="#a0a0a0" stroke-width="0.4"/>
<rect x="277.10" y="248.20" width="10.4" height="4.25" fill="#d2ecf7" stroke="#a0a0a0" stroke-width="0.5"/>
<line x1="287.50" y1="248.20" x2="293.28" y2="248.20" stroke="#999" stroke-width="0.5" stroke-dasharray="1,1"/>
<line x1="287.50" y1="252.45" x2="293.28" y2="252.45" stroke="#999" stroke-width="0.5" stroke-dasharray="1,1"/>
<text x="282.30" y="252.52" font-size="6.2" text-anchor="middle" fill="#000" font-weight="normal" stroke="#000" stroke-width="0.05">6.0</text>
<text x="282.30" y="278.97" font-size="6.6" text-anchor="middle" fill="#111" font-weight="normal" >67</text>
<text x="282.30" y="312.54" font-size="6.6" text-anchor="middle" fill="#ffffff" font-weight="normal" >27</text>
<line x1="274.30" y1="319.0" x2="274.30" y2="321.2" stroke="#505050" stroke-width="0.8"/>
<text x="282.30" y="327.00" font-size="6.6" text-anchor="middle" fill="#262626" font-weight="normal" >15</text>
<rect x="293.28" y="299.88" width="10.4" height="19.12" fill="#1f4a85"/>
<rect x="293.28" y="252.45" width="10.4" height="47.44" fill="#80cae8" stroke="#a0a0a0" stroke-width="0.4"/>
<rect x="293.28" y="248.20" width="10.4" height="4.25" fill="#d2ecf7" stroke="#a0a0a0" stroke-width="0.5"/>
<line x1="303.68" y1="248.20" x2="309.46" y2="248.20" stroke="#999" stroke-width="0.5" stroke-dasharray="1,1"/>
<line x1="303.68" y1="252.45" x2="309.46" y2="252.45" stroke="#999" stroke-width="0.5" stroke-dasharray="1,1"/>
<text x="298.48" y="252.52" font-size="6.2" text-anchor="middle" fill="#000" font-weight="normal" stroke="#000" stroke-width="0.05">6.0</text>
<text x="298.48" y="278.97" font-size="6.6" text-anchor="middle" fill="#111" font-weight="normal" >67</text>
<text x="298.48" y="312.54" font-size="6.6" text-anchor="middle" fill="#ffffff" font-weight="normal" >27</text>
<line x1="290.48" y1="319.0" x2="290.48" y2="321.2" stroke="#505050" stroke-width="0.8"/>
<text x="298.48" y="327.00" font-size="6.6" text-anchor="middle" fill="#262626" font-weight="normal" >16</text>
<rect x="309.46" y="299.88" width="10.4" height="19.12" fill="#1f4a85"/>
<rect x="309.46" y="252.45" width="10.4" height="47.44" fill="#80cae8" stroke="#a0a0a0" stroke-width="0.4"/>
<rect x="309.46" y="248.20" width="10.4" height="4.25" fill="#d2ecf7" stroke="#a0a0a0" stroke-width="0.5"/>
<line x1="319.86" y1="248.20" x2="325.64" y2="248.20" stroke="#999" stroke-width="0.5" stroke-dasharray="1,1"/>
<line x1="319.86" y1="252.45" x2="325.64" y2="253.16" stroke="#999" stroke-width="0.5" stroke-dasharray="1,1"/>
<text x="314.66" y="252.52" font-size="6.2" text-anchor="middle" fill="#000" font-weight="normal" stroke="#000" stroke-width="0.05">6.0</text>
<text x="314.66" y="278.97" font-size="6.6" text-anchor="middle" fill="#111" font-weight="normal" >67</text>
<text x="314.66" y="312.54" font-size="6.6" text-anchor="middle" fill="#ffffff" font-weight="normal" >27</text>
<line x1="306.66" y1="319.0" x2="306.66" y2="321.2" stroke="#505050" stroke-width="0.8"/>
<text x="314.66" y="327.00" font-size="6.6" text-anchor="middle" fill="#262626" font-weight="normal" >17</text>
<rect x="325.64" y="300.59" width="10.4" height="18.41" fill="#1f4a85"/>
<rect x="325.64" y="253.16" width="10.4" height="47.44" fill="#80cae8" stroke="#a0a0a0" stroke-width="0.4"/>
<rect x="325.64" y="248.20" width="10.4" height="4.96" fill="#d2ecf7" stroke="#a0a0a0" stroke-width="0.5"/>
<line x1="336.04" y1="248.20" x2="341.82" y2="248.20" stroke="#999" stroke-width="0.5" stroke-dasharray="1,1"/>
<line x1="336.04" y1="253.16" x2="341.82" y2="253.16" stroke="#999" stroke-width="0.5" stroke-dasharray="1,1"/>
<text x="330.84" y="252.88" font-size="6.2" text-anchor="middle" fill="#000" font-weight="normal" stroke="#000" stroke-width="0.05">7.0</text>
<text x="330.84" y="279.67" font-size="6.6" text-anchor="middle" fill="#111" font-weight="normal" >67</text>
<text x="330.84" y="312.90" font-size="6.6" text-anchor="middle" fill="#ffffff" font-weight="normal" >26</text>
<line x1="322.84" y1="319.0" x2="322.84" y2="321.2" stroke="#505050" stroke-width="0.8"/>
<text x="330.84" y="327.00" font-size="6.6" text-anchor="middle" fill="#262626" font-weight="normal" >18</text>
<rect x="341.82" y="300.59" width="10.4" height="18.41" fill="#1f4a85"/>
<rect x="341.82" y="253.16" width="10.4" height="47.44" fill="#80cae8" stroke="#a0a0a0" stroke-width="0.4"/>
<rect x="341.82" y="248.20" width="10.4" height="4.96" fill="#d2ecf7" stroke="#a0a0a0" stroke-width="0.5"/>
<line x1="352.22" y1="248.20" x2="358.00" y2="248.20" stroke="#999" stroke-width="0.5" stroke-dasharray="1,1"/>
<line x1="352.22" y1="253.16" x2="358.00" y2="252.45" stroke="#999" stroke-width="0.5" stroke-dasharray="1,1"/>
<text x="347.02" y="252.88" font-size="6.2" text-anchor="middle" fill="#000" font-weight="normal" stroke="#000" stroke-width="0.05">7.0</text>
<text x="347.02" y="279.67" font-size="6.6" text-anchor="middle" fill="#111" font-weight="normal" >67</text>
<text x="347.02" y="312.90" font-size="6.6" text-anchor="middle" fill="#ffffff" font-weight="normal" >26</text>
<line x1="339.02" y1="319.0" x2="339.02" y2="321.2" stroke="#505050" stroke-width="0.8"/>
<text x="347.02" y="327.00" font-size="6.6" text-anchor="middle" fill="#262626" font-weight="normal" >19</text>
<rect x="358.00" y="300.59" width="10.4" height="18.41" fill="#1f4a85"/>
<rect x="358.00" y="252.45" width="10.4" height="48.14" fill="#80cae8" stroke="#a0a0a0" stroke-width="0.4"/>
<rect x="358.00" y="248.20" width="10.4" height="4.25" fill="#d2ecf7" stroke="#a0a0a0" stroke-width="0.5"/>
<line x1="368.40" y1="248.20" x2="374.18" y2="248.20" stroke="#999" stroke-width="0.5" stroke-dasharray="1,1"/>
<line x1="368.40" y1="252.45" x2="374.18" y2="253.16" stroke="#999" stroke-width="0.5" stroke-dasharray="1,1"/>
<text x="363.20" y="252.52" font-size="6.2" text-anchor="middle" fill="#000" font-weight="normal" stroke="#000" stroke-width="0.05">6.0</text>
<text x="363.20" y="279.32" font-size="6.6" text-anchor="middle" fill="#111" font-weight="normal" >68</text>
<text x="363.20" y="312.90" font-size="6.6" text-anchor="middle" fill="#ffffff" font-weight="normal" >26</text>
<line x1="355.20" y1="319.0" x2="355.20" y2="321.2" stroke="#505050" stroke-width="0.8"/>
<text x="363.20" y="327.00" font-size="6.6" text-anchor="middle" fill="#262626" font-weight="normal" >20</text>
<rect x="374.18" y="301.30" width="10.4" height="17.70" fill="#1f4a85"/>
<rect x="374.18" y="253.16" width="10.4" height="48.14" fill="#80cae8" stroke="#a0a0a0" stroke-width="0.4"/>
<rect x="374.18" y="248.20" width="10.4" height="4.96" fill="#d2ecf7" stroke="#a0a0a0" stroke-width="0.5"/>
<line x1="384.58" y1="248.20" x2="390.36" y2="248.20" stroke="#999" stroke-width="0.5" stroke-dasharray="1,1"/>
<line x1="384.58" y1="253.16" x2="390.36" y2="253.16" stroke="#999" stroke-width="0.5" stroke-dasharray="1,1"/>
<text x="379.38" y="252.88" font-size="6.2" text-anchor="middle" fill="#000" font-weight="normal" stroke="#000" stroke-width="0.05">7.0</text>
<text x="379.38" y="280.03" font-size="6.6" text-anchor="middle" fill="#111" font-weight="normal" >68</text>
<text x="379.38" y="313.25" font-size="6.6" text-anchor="middle" fill="#ffffff" font-weight="normal" >25</text>
<line x1="371.38" y1="319.0" x2="371.38" y2="321.2" stroke="#505050" stroke-width="0.8"/>
<text x="379.38" y="327.00" font-size="6.6" text-anchor="middle" fill="#262626" font-weight="normal" >21</text>
<rect x="390.36" y="301.30" width="10.4" height="17.70" fill="#1f4a85"/>
<rect x="390.36" y="253.16" width="10.4" height="48.14" fill="#80cae8" stroke="#a0a0a0" stroke-width="0.4"/>
<rect x="390.36" y="248.20" width="10.4" height="4.96" fill="#d2ecf7" stroke="#a0a0a0" stroke-width="0.5"/>
<line x1="400.76" y1="248.20" x2="406.54" y2="248.20" stroke="#999" stroke-width="0.5" stroke-dasharray="1,1"/>
<line x1="400.76" y1="253.16" x2="406.54" y2="253.16" stroke="#999" stroke-width="0.5" stroke-dasharray="1,1"/>
<text x="395.56" y="252.88" font-size="6.2" text-anchor="middle" fill="#000" font-weight="normal" stroke="#000" stroke-width="0.05">7.0</text>
<text x="395.56" y="280.03" font-size="6.6" text-anchor="middle" fill="#111" font-weight="normal" >68</text>
<text x="395.56" y="313.25" font-size="6.6" text-anchor="middle" fill="#ffffff" font-weight="normal" >25</text>
<line x1="387.56" y1="319.0" x2="387.56" y2="321.2" stroke="#505050" stroke-width="0.8"/>
<text x="395.56" y="327.00" font-size="6.6" text-anchor="middle" fill="#262626" font-weight="normal" >22</text>
<rect x="406.54" y="301.30" width="10.4" height="17.70" fill="#1f4a85"/>
<rect x="406.54" y="253.16" width="10.4" height="48.14" fill="#80cae8" stroke="#a0a0a0" stroke-width="0.4"/>
<rect x="406.54" y="248.20" width="10.4" height="4.96" fill="#d2ecf7" stroke="#a0a0a0" stroke-width="0.5"/>
<line x1="416.94" y1="248.20" x2="422.72" y2="248.20" stroke="#999" stroke-width="0.5" stroke-dasharray="1,1"/>
<line x1="416.94" y1="253.16" x2="422.72" y2="254.43" stroke="#999" stroke-width="0.5" stroke-dasharray="1,1"/>
<text x="411.74" y="252.88" font-size="6.2" text-anchor="middle" fill="#000" font-weight="normal" stroke="#000" stroke-width="0.05">7.0</text>
<text x="411.74" y="280.03" font-size="6.6" text-anchor="middle" fill="#111" font-weight="normal" >68</text>
<text x="411.74" y="313.25" font-size="6.6" text-anchor="middle" fill="#ffffff" font-weight="normal" >25</text>
<line x1="403.74" y1="319.0" x2="403.74" y2="321.2" stroke="#505050" stroke-width="0.8"/>
<text x="411.74" y="327.00" font-size="6.6" text-anchor="middle" fill="#262626" font-weight="normal" >23</text>
<rect x="422.72" y="303.21" width="10.4" height="15.79" fill="#1f4a85"/>
<rect x="422.72" y="254.43" width="10.4" height="48.78" fill="#80cae8" stroke="#a0a0a0" stroke-width="0.4"/>
<rect x="422.72" y="248.20" width="10.4" height="6.23" fill="#d2ecf7" stroke="#a0a0a0" stroke-width="0.5"/>
<line x1="433.12" y1="248.20" x2="438.90" y2="248.20" stroke="#999" stroke-width="0.5" stroke-dasharray="1,1"/>
<line x1="433.12" y1="254.43" x2="438.90" y2="256.41" stroke="#999" stroke-width="0.5" stroke-dasharray="1,1"/>
<text x="427.92" y="253.52" font-size="6.2" text-anchor="middle" fill="#000" font-weight="normal" stroke="#000" stroke-width="0.05">8.8</text>
<text x="427.92" y="281.62" font-size="6.6" text-anchor="middle" fill="#111" font-weight="normal" >68.9</text>
<text x="427.92" y="314.21" font-size="6.6" text-anchor="middle" fill="#ffffff" font-weight="normal" >22.3</text>
<line x1="419.92" y1="319.0" x2="419.92" y2="321.2" stroke="#505050" stroke-width="0.8"/>
<text x="427.92" y="327.00" font-size="6.6" text-anchor="middle" fill="#262626" font-weight="normal" >30</text>
<rect x="438.90" y="304.77" width="10.4" height="14.23" fill="#1f4a85"/>
<rect x="438.90" y="256.41" width="10.4" height="48.36" fill="#80cae8" stroke="#a0a0a0" stroke-width="0.4"/>
<rect x="438.90" y="248.20" width="10.4" height="8.21" fill="#d2ecf7" stroke="#a0a0a0" stroke-width="0.5"/>
<line x1="449.30" y1="248.20" x2="455.08" y2="248.20" stroke="#999" stroke-width="0.5" stroke-dasharray="1,1"/>
<line x1="449.30" y1="256.41" x2="455.08" y2="258.82" stroke="#999" stroke-width="0.5" stroke-dasharray="1,1"/>
<text x="444.10" y="254.51" font-size="6.2" text-anchor="middle" fill="#000" font-weight="normal" stroke="#000" stroke-width="0.05">11.6</text>
<text x="444.10" y="283.39" font-size="6.6" text-anchor="middle" fill="#111" font-weight="normal" >68.4</text>
<text x="444.10" y="314.98" font-size="6.6" text-anchor="middle" fill="#ffffff" font-weight="normal" >20.1</text>
<line x1="436.10" y1="319.0" x2="436.10" y2="321.2" stroke="#505050" stroke-width="0.8"/>
<text x="444.10" y="327.00" font-size="6.6" text-anchor="middle" fill="#262626" font-weight="normal" >40</text>
<rect x="455.08" y="306.26" width="10.4" height="12.74" fill="#1f4a85"/>
<rect x="455.08" y="258.82" width="10.4" height="47.44" fill="#80cae8" stroke="#a0a0a0" stroke-width="0.4"/>
<rect x="455.08" y="248.20" width="10.4" height="10.62" fill="#d2ecf7" stroke="#a0a0a0" stroke-width="0.5"/>
<text x="460.28" y="255.71" font-size="6.2" text-anchor="middle" fill="#000" font-weight="normal" stroke="#000" stroke-width="0.05">15.0</text>
<text x="460.28" y="285.34" font-size="6.6" text-anchor="middle" fill="#111" font-weight="normal" >67.0</text>
<text x="460.28" y="315.73" font-size="6.6" text-anchor="middle" fill="#ffffff" font-weight="normal" >18.0</text>
<line x1="452.28" y1="319.0" x2="452.28" y2="321.2" stroke="#505050" stroke-width="0.8"/>
<text x="460.28" y="327.00" font-size="6.6" text-anchor="middle" fill="#262626" font-weight="normal" >50</text>
<line x1="30" y1="319.0" x2="468" y2="319.0" stroke="#404040" stroke-width="1"/>
<text x="469.20" y="256.40" font-size="6.3" text-anchor="start" fill="#1a1a1a" font-weight="normal" textLength="26.8" lengthAdjust="spacing" stroke="#1a1a1a" stroke-width="0.15">65歳以上</text>
<text x="469.20" y="285.40" font-size="6.3" text-anchor="start" fill="#1a1a1a" font-weight="normal" textLength="27.2" lengthAdjust="spacing" stroke="#1a1a1a" stroke-width="0.15">15～64歳</text>
<text x="470.80" y="315.60" font-size="6.3" text-anchor="start" fill="#1a1a1a" font-weight="normal" textLength="25.8" lengthAdjust="spacing" stroke="#1a1a1a" stroke-width="0.15">15歳未満</text>
<path d="M415.5,133.8 V217.9 H484" fill="none" stroke="#7a7a7a" stroke-width="0.7" stroke-dasharray="0.9,0.5"/>
<path d="M483.2,215.6 L487.6,217.9 L483.2,220.2 Z" fill="#7a7a7a"/>
<path d="M419.2,237 V332.5 H486" fill="none" stroke="#7a7a7a" stroke-width="0.7" stroke-dasharray="0.9,0.5"/>
<path d="M485.8,330.4 L490,332.5 L485.8,334.6 Z" fill="#7a7a7a"/>
<rect x="425.2" y="213.7" width="54.20" height="8.60" rx="4.30" fill="#f3e3b3" stroke="#8f846c" stroke-width="0.6"/>
<text x="452.30" y="219.50" font-size="4.2" text-anchor="middle" fill="#1a1a1a" font-weight="normal" textLength="38" lengthAdjust="spacingAndGlyphs" stroke="#1a1a1a" stroke-width="0.08">2030年以降は予測値</text>
<rect x="423.8" y="329.4" width="54.10" height="7.20" rx="3.60" fill="#f3e3b3" stroke="#8f846c" stroke-width="0.6"/>
<text x="451.65" y="334.50" font-size="4.2" text-anchor="middle" fill="#1a1a1a" font-weight="normal" textLength="40" lengthAdjust="spacingAndGlyphs" stroke="#1a1a1a" stroke-width="0.08">2030年以降は予測値。</text>
<text x="11.40" y="340.90" font-size="4.7" text-anchor="start" fill="#1a1a1a" font-weight="normal" textLength="197" lengthAdjust="spacingAndGlyphs" stroke="#1a1a1a" stroke-width="0.15">（出所）国際連合「World Population Prospects」、世界銀行データベース（2025年1月時点）</text>
<text x="486.40" y="344.10" font-size="6.8" text-anchor="start" fill="#1a1a1a" font-weight="normal" >5</text>
</svg></body></html>
